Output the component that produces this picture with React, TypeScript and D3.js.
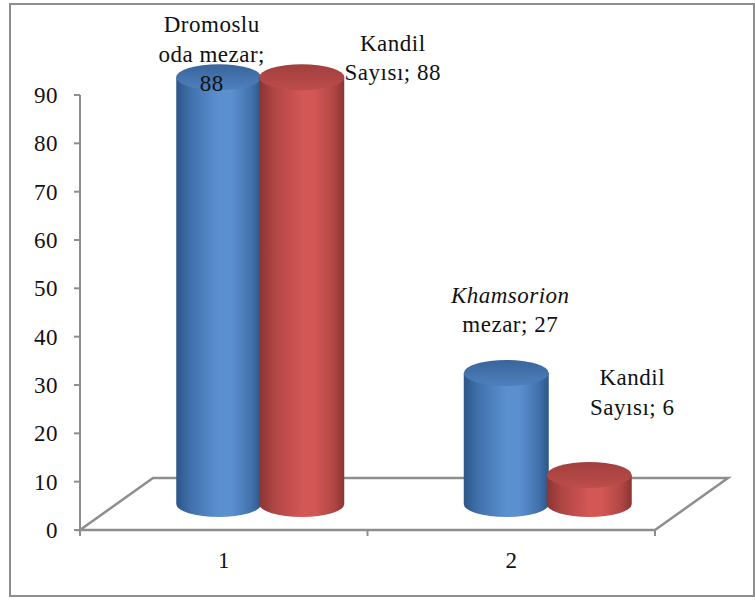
import React from "react";
import * as d3 from "d3";

// ---------- data ----------
const categories = ["1", "2"];
const seriesKeys = ["mezar", "kandil"];
const mezarValues = [88, 27];
const kandilValues = [88, 6];
const mezarLabels = ["Dromoslu\noda mezar;\n{v}", "*Khamsorion*\nmezar; {v}"];
const kandilLabels = ["Kandil\nSayısı; {v}", "Kandil\nSayısı; {v}"];
const yTickValues = [0, 10, 20, 30, 40, 50, 60, 70, 80, 90];

// ---------- layout ----------
const W = 755;
const H = 600;
const plot = { left: 80, right: 655, top: 95, bottom: 530 };
const depth = { dx: 73, dy: -52 };
const barStep = 83;
const rx = 42.5;
const ry = 13;
const lineH = 29.5;
const FONT = "Liberation Serif, DejaVu Serif, Times New Roman";
const labelOffsets = [
  [{ dx: -7, dy: 14 }, { dx: 4, dy: -41 }],
  [{ dx: 91, dy: 3 }, { dx: 43, dy: -60 }],
];
const palette = {
  mezar: { dark: "#2d5688", mid: "#4272ad", light: "#5b90d0", topA: "#39649b", topB: "#4f80bd" },
  kandil: { dark: "#8a3533", mid: "#b04644", light: "#d35755", topA: "#a03f3d", topB: "#bd4d4b" },
};
const gray = "#8e8e8e";

export default function App() {
  const x = d3.scaleBand<string>().domain(categories).range([plot.left, plot.right]);
  const yAxis = d3.scaleLinear().domain([0, 90]).range([plot.bottom, plot.top]);
  const baseY = plot.bottom + depth.dy / 2;
  const yBar = d3.scaleLinear().domain([0, 90]).range([baseY, baseY - 90 * 4.85]);
  const bw = x.bandwidth();
  const seriesValues = [mezarValues, kandilValues];
  const seriesLabels = [mezarLabels, kandilLabels];

  const floor = [
    [plot.left, plot.bottom],
    [plot.right, plot.bottom],
    [plot.right + depth.dx, plot.bottom + depth.dy],
    [plot.left + depth.dx, plot.bottom + depth.dy],
  ];
  const floorPath = d3.line()(floor as [number, number][]) + "Z";

  const bars: any[] = [];
  categories.forEach((c, ci) => {
    const pairCenter = (x(c) as number) + bw / 2 + depth.dx / 2;
    seriesKeys.forEach((k, si) => {
      const v = seriesValues[si][ci];
      const cx = pairCenter + (si - 0.5) * barStep;
      bars.push({ k, si, ci, v, cx, yTop: yBar(v), yBot: yBar(0), label: seriesLabels[si][ci] });
    });
  });

  const textStyle = { fontFamily: FONT };

  const renderLabel = (b: any) => {
    const lines = (b.label as string).replace("{v}", String(b.v)).split("\n");
    const off = labelOffsets[b.si][b.ci];
    const lx = b.cx + off.dx;
    const lastY = b.yTop + off.dy;
    return (
      <text key={"l" + b.k + b.ci} textAnchor="middle" style={textStyle} fontSize={23} letterSpacing={0.5} fill="#111">
        {lines.map((ln, i) => {
          const italic = ln.startsWith("*");
          const t = ln.replace(/\*/g, "");
          return (
            <tspan key={i} x={lx} y={lastY - (lines.length - 1 - i) * lineH} fontStyle={italic ? "italic" : "normal"}>
              {t}
            </tspan>
          );
        })}
      </text>
    );
  };

  return (
    <div style={{ position: "absolute", left: 0, top: 0 }}>
      <svg width={W} height={H} style={{ display: "block" }}>
        <defs>
          {seriesKeys.map((k) => {
            const p = (palette as any)[k];
            return (
              <React.Fragment key={k}>
                <linearGradient id={"body-" + k} x1="0" x2="1" y1="0" y2="0">
                  <stop offset="0%" stopColor={p.dark} />
                  <stop offset="18%" stopColor={p.mid} />
                  <stop offset="50%" stopColor={p.light} />
                  <stop offset="65%" stopColor={p.light} />
                  <stop offset="88%" stopColor={p.mid} />
                  <stop offset="100%" stopColor={p.dark} />
                </linearGradient>
                <linearGradient id={"top-" + k} x1="0" x2="0" y1="0" y2="1">
                  <stop offset="0%" stopColor={p.topA} />
                  <stop offset="100%" stopColor={p.topB} />
                </linearGradient>
              </React.Fragment>
            );
          })}
        </defs>
        <rect x={0} y={0} width={W} height={H} fill="#fff" />
        {/* outer frame */}
        <rect x={10} y={4} width={744} height={592} fill="none" stroke={gray} strokeWidth={2} />

        {/* floor */}
        <path d={floorPath} fill="#fff" stroke={gray} strokeWidth={2.5} strokeLinejoin="miter" />

        {/* y axis */}
        <line x1={plot.left} x2={plot.left} y1={yAxis(90)} y2={plot.bottom + 6} stroke={gray} strokeWidth={2} />
        {yTickValues.map((t) => (
          <g key={t}>
            <line x1={plot.left - 6} x2={plot.left} y1={yAxis(t)} y2={yAxis(t)} stroke={gray} strokeWidth={2} />
            <text x={58} y={yAxis(t)} dy="0.35em" textAnchor="end" style={textStyle} fontSize={23} letterSpacing={0.5} fill="#111">
              {t}
            </text>
          </g>
        ))}
        {/* x axis ticks */}
        {[...categories.map((c) => x(c) as number), plot.right].map((tx, i) => (
          <line key={i} x1={tx} x2={tx} y1={plot.bottom} y2={plot.bottom + 6} stroke={gray} strokeWidth={2} />
        ))}
        {categories.map((c) => (
          <text key={c} x={(x(c) as number) + bw / 2} y={568} textAnchor="middle" style={textStyle} fontSize={23} fill="#111">
            {c}
          </text>
        ))}

        {/* bars */}
        {bars.map((b) => {
          const l = b.cx - rx;
          const r = b.cx + rx;
          const body = `M${l},${b.yTop} L${l},${b.yBot} A${rx},${ry} 0 0 0 ${r},${b.yBot} L${r},${b.yTop} Z`;
          return (
            <g key={b.k + b.ci}>
              <path d={body} fill={`url(#body-${b.k})`} />
              <ellipse cx={b.cx} cy={b.yTop} rx={rx} ry={ry} fill={`url(#top-${b.k})`} />
            </g>
          );
        })}

        {/* labels */}
        {bars.map(renderLabel)}
      </svg>
    </div>
  );
}
